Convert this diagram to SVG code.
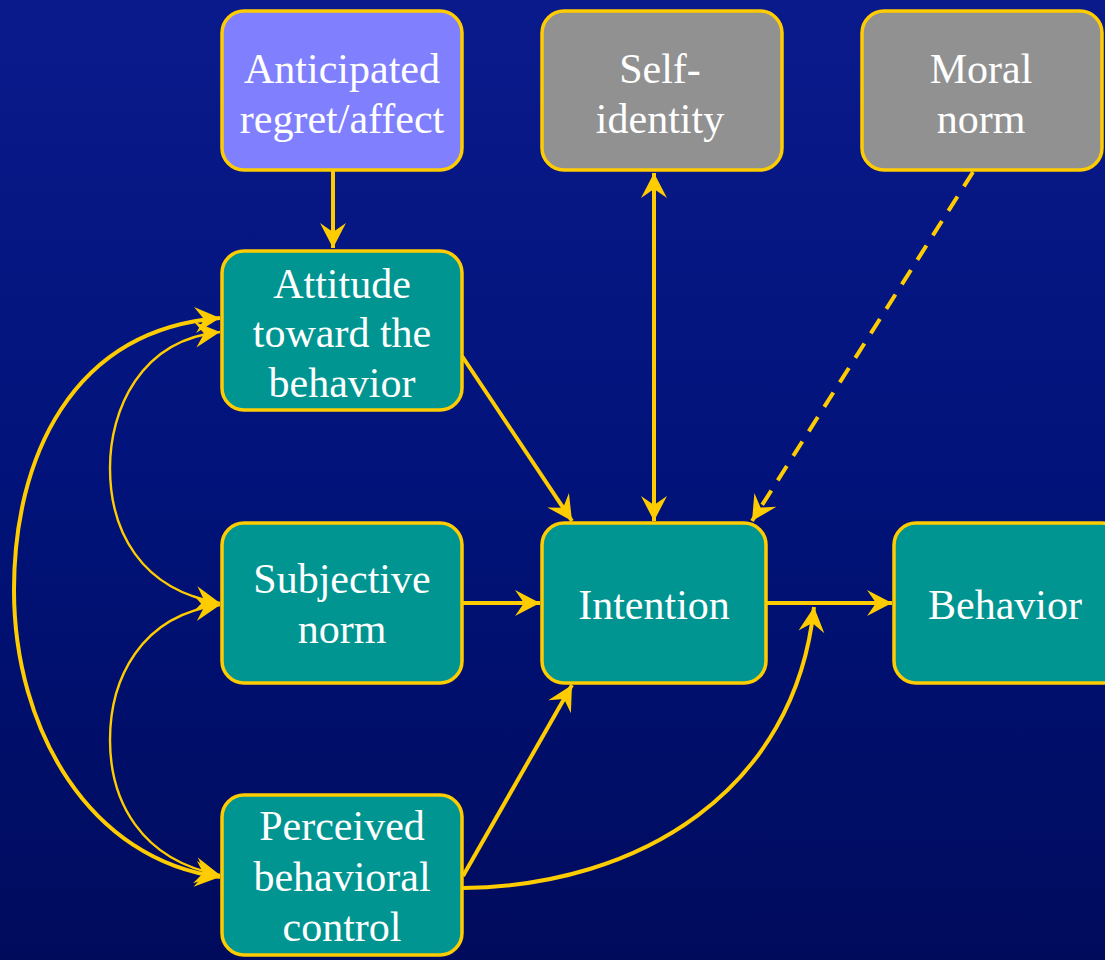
<svg xmlns="http://www.w3.org/2000/svg" width="1105" height="960" viewBox="0 0 1105 960">
<defs>
<linearGradient id="bg" x1="0" y1="0" x2="0" y2="1">
<stop offset="0" stop-color="#0a1a8b"/>
<stop offset="0.5" stop-color="#01137a"/>
<stop offset="1" stop-color="#000b5c"/>
</linearGradient>
<marker id="ah" viewBox="-26 -14 28 28" refX="0" refY="0" markerWidth="28" markerHeight="28" markerUnits="userSpaceOnUse" orient="auto-start-reverse">
<path d="M0,0 L-25,-13 L-16,0 L-25,13 Z" fill="#ffcc00"/>
</marker>
<style>
.box{stroke:#ffcc00;stroke-width:3.5}
.teal{fill:#009591}
.gray{fill:#919191}
.purple{fill:#8080ff}
text{font-family:"Liberation Serif","Times New Roman",serif;font-size:42px;fill:#ffffff;text-anchor:middle}
.c{fill:none;stroke:#ffcc00;stroke-width:4}
.thin{stroke-width:2.4}
.dash{stroke-dasharray:17,12}
</style>
</defs>
<rect width="1105" height="960" fill="url(#bg)"/>

<g id="connectors">
<path class="c" d="M333,171 L333,248" marker-end="url(#ah)"/>
<path class="c" d="M654,173 L654,521" marker-start="url(#ah)" marker-end="url(#ah)"/>
<path class="c dash" d="M973,172 L752,521" marker-end="url(#ah)"/>
<path class="c" d="M462,356 L572,521" marker-end="url(#ah)"/>
<path class="c" d="M463,603 L540,603" marker-end="url(#ah)"/>
<path class="c" d="M463,876 L572,685" marker-end="url(#ah)"/>
<path class="c" d="M767,603 L892,603" marker-end="url(#ah)"/>
<path class="c" d="M463,888 C640,886 795,790 814,607" marker-end="url(#ah)"/>
<path class="c" d="M220,318 C70,330 14,460 14,590 C14,730 90,860 220,877" marker-start="url(#ah)" marker-end="url(#ah)"/>
<path class="c thin" d="M220,332 C140,340 110,410 110,468 C110,530 140,590 220,603" marker-start="url(#ah)" marker-end="url(#ah)"/>
<path class="c thin" d="M220,605 C140,615 110,680 110,740 C110,800 140,860 220,875" marker-start="url(#ah)" marker-end="url(#ah)"/>
</g>

<g id="anticipated">
<rect class="box purple" x="222" y="11" width="240" height="159" rx="22"/>
<text x="342" y="83">Anticipated</text>
<text x="342" y="133">regret/affect</text>
</g>
<g id="self-identity">
<rect class="box gray" x="542" y="11" width="240" height="159" rx="22"/>
<text x="660" y="83">Self-</text>
<text x="660" y="133">identity</text>
</g>
<g id="moral-norm">
<rect class="box gray" x="862" y="11" width="240" height="159" rx="22"/>
<text x="981" y="83">Moral</text>
<text x="981" y="133">norm</text>
</g>
<g id="attitude">
<rect class="box teal" x="222" y="251" width="240" height="159" rx="22"/>
<text x="342" y="298">Attitude</text>
<text x="342" y="347">toward the</text>
<text x="342" y="397">behavior</text>
</g>
<g id="subjective-norm">
<rect class="box teal" x="222" y="523" width="240" height="160" rx="22"/>
<text x="342" y="593">Subjective</text>
<text x="342" y="643">norm</text>
</g>
<g id="intention">
<rect class="box teal" x="542" y="523" width="224" height="160" rx="22"/>
<text x="654" y="619">Intention</text>
</g>
<g id="behavior">
<rect class="box teal" x="894" y="523" width="230" height="160" rx="22"/>
<text x="1005" y="619">Behavior</text>
</g>
<g id="pbc">
<rect class="box teal" x="222" y="795" width="240" height="160" rx="22"/>
<text x="342" y="840">Perceived</text>
<text x="342" y="891">behavioral</text>
<text x="342" y="941">control</text>
</g>
</svg>
